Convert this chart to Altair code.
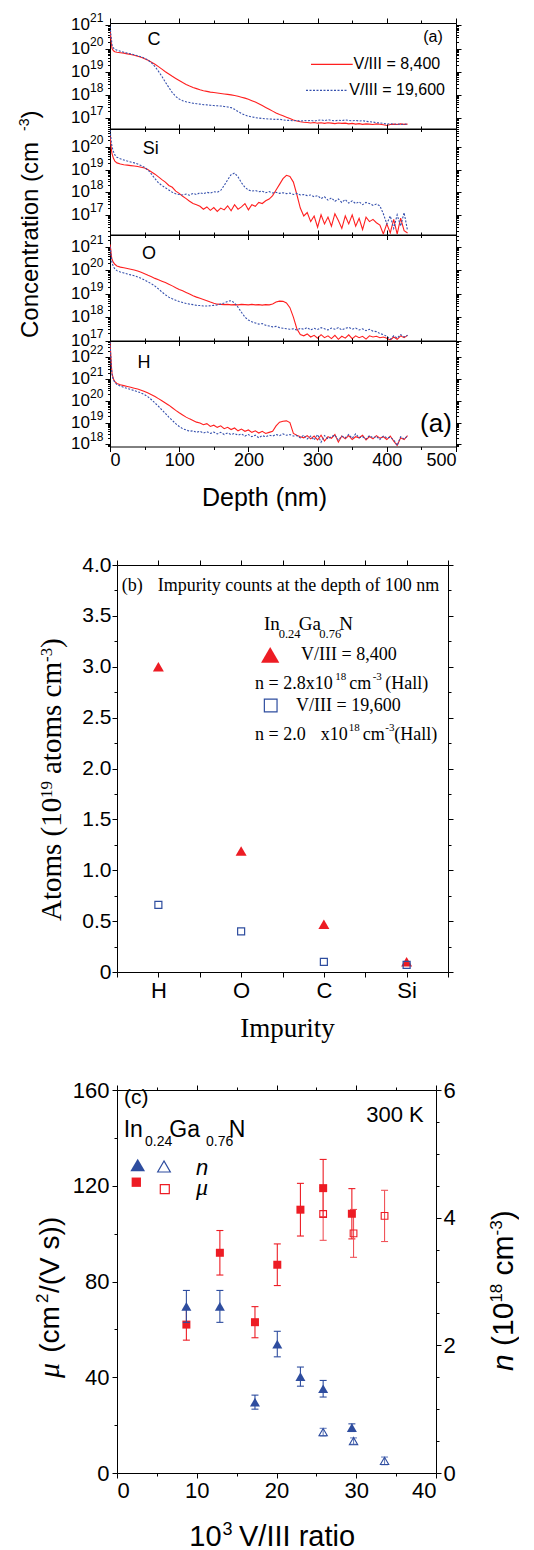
import json
import math
import altair as alt
import pandas as pd

SANS = "Liberation Sans"
SERIF = "Liberation Serif"
RED = "#ed1c24"
BLUE = "#2e4d9f"
LINE_RED = "#ff1f1f"
LINE_BLUE = "#3651ad"

# ---------------- panel (a): SIMS depth profiles (log10 of concentration) -------------
DEPTH = [0, 1, 2, 3, 5, 7,
         10, 15, 20, 25, 30, 35, 40, 45, 50, 55,
         60, 65, 70, 75, 80, 85, 90, 95, 100, 105,
         110, 115, 120, 125, 130, 135, 140, 145, 150, 155,
         160, 165, 170, 175, 180, 185, 190, 195, 200, 205,
         210, 215, 220, 225, 230, 235, 240, 245, 250, 255,
         260, 265, 270, 275, 280, 285, 290, 295, 300, 305,
         310, 315, 320, 325, 330, 335, 340, 345, 350, 355,
         360, 365, 370, 375, 380, 385, 390, 395, 400, 405,
         410, 415, 420, 425, 430]

C_8400 = [20.8, 20.5, 20.2, 20.0, 19.9, 19.86,
          19.84, 19.82, 19.8, 19.77, 19.74, 19.71, 19.67, 19.62, 19.56, 19.49,
          19.41, 19.32, 19.22, 19.11, 19.0, 18.9, 18.8, 18.71, 18.62, 18.53,
          18.45, 18.38, 18.32, 18.27, 18.22, 18.18, 18.15, 18.12, 18.1, 18.08,
          18.06, 18.04, 18.02, 18.0, 17.97, 17.94, 17.9, 17.86, 17.81, 17.75,
          17.69, 17.62, 17.54, 17.46, 17.38, 17.3, 17.22, 17.15, 17.1, 17.04,
          16.98, 16.92, 16.87, 16.84, 16.82, 16.81, 16.79, 16.81, 16.78, 16.8,
          16.77, 16.8, 16.78, 16.76, 16.79, 16.77, 16.78, 16.75, 16.77, 16.74,
          16.76, 16.73, 16.75, 16.74, 16.72, 16.75, 16.73, 16.71, 16.68, 16.72,
          16.74, 16.72, 16.75, 16.73, 16.74]
C_19600 = [20.95, 20.7, 20.4, 20.15, 20.02, 19.97,
           19.93, 19.88, 19.84, 19.8, 19.77, 19.73, 19.69, 19.64, 19.58, 19.5,
           19.38, 19.22, 19.02, 18.8, 18.55, 18.32, 18.1, 17.93, 17.82, 17.75,
           17.7, 17.67, 17.64, 17.62, 17.6, 17.58, 17.57, 17.55, 17.54, 17.53,
           17.52, 17.5, 17.48, 17.45, 17.38, 17.28, 17.2, 17.13, 17.08, 17.05,
           17.02, 17.0, 16.98, 16.97, 16.96, 16.95, 16.94, 16.95, 16.92, 16.9,
           16.9, 16.88, 16.9, 16.87, 16.89, 16.88, 16.9, 16.87, 16.9, 16.92,
           16.89, 16.93, 16.9, 16.88, 16.91, 16.89, 16.92, 16.9, 16.88, 16.9,
           16.87, 16.89, 16.86, 16.84, 16.83, 16.8, 16.79, 16.77, 16.74, 16.76,
           16.73, 16.75, 16.72, 16.74, 16.73]
SI_8400 = [20.5, 20.2, 19.9, 19.7, 19.5, 19.38,
           19.3, 19.25, 19.22, 19.2, 19.18, 19.16, 19.14, 19.11, 19.07, 19.0,
           18.9, 18.8, 18.68, 18.56, 18.45, 18.3, 18.22, 18.05, 17.95, 17.82,
           17.72, 17.6, 17.5, 17.45, 17.38, 17.25, 17.35, 17.2, 17.32, 17.15,
           17.3, 17.22, 17.4, 17.18, 17.45, 17.25, 17.35, 17.5, 17.22, 17.45,
           17.38, 17.55, 17.5, 17.62, 17.7, 17.85, 18.1, 18.35, 18.6, 18.75,
           18.7, 18.45, 17.9, 17.3, 16.95, 17.1, 16.7, 16.95, 16.45, 17.0,
           16.6, 16.9, 16.5, 17.05, 16.75, 16.4, 16.95, 16.6, 17.0, 16.5,
           16.85, 16.35, 16.9, 16.7, 16.8, 16.65, 16.55, 16.15, 16.6, 16.2,
           16.8, 16.15, 16.85, 16.3, 16.2]
SI_19600 = [20.75, 20.5, 20.2, 20.0, 19.8, 19.65,
            19.55, 19.48, 19.43, 19.38, 19.34, 19.3, 19.25, 19.18, 19.1, 18.98,
            18.8, 18.6, 18.42, 18.3, 18.2, 18.1, 18.0, 17.93, 17.9, 17.88,
            17.92, 17.87, 17.95, 17.9, 17.98, 17.93, 18.0, 17.96, 18.02, 18.0,
            18.08, 18.3, 18.55, 18.78, 18.85, 18.68, 18.42, 18.22, 18.1, 18.05,
            18.08, 18.02, 18.05, 17.98, 18.03, 17.97, 18.0, 17.95, 17.98, 17.94,
            17.96, 17.9, 17.95, 17.88, 17.9, 17.85, 17.88, 17.8, 17.85, 17.72,
            17.8, 17.65, 17.75, 17.6, 17.7, 17.55, 17.68, 17.52, 17.62, 17.5,
            17.58, 17.45, 17.55, 17.5, 17.42, 17.48, 17.4, 17.05, 16.6, 16.95,
            16.4, 17.0, 16.5, 17.1, 16.3]
O_8400 = [21.1, 20.9, 20.6, 20.45, 20.33, 20.25,
          20.18, 20.13, 20.1, 20.07, 20.04, 20.01, 19.96, 19.91, 19.85, 19.78,
          19.72, 19.65, 19.59, 19.53, 19.47, 19.4, 19.33, 19.25, 19.18, 19.12,
          19.05, 18.98, 18.91, 18.85, 18.8, 18.75, 18.7, 18.64, 18.59, 18.55,
          18.54, 18.53, 18.54, 18.52, 18.53, 18.52, 18.54, 18.53, 18.52, 18.54,
          18.52, 18.53, 18.51, 18.53, 18.52, 18.56, 18.64, 18.68, 18.67, 18.6,
          18.4, 18.0, 17.5, 17.25, 17.2, 17.28, 17.15, 17.22, 17.1, 17.25,
          17.12, 17.2, 17.08, 17.22, 17.05, 17.18, 17.1, 17.24, 17.08, 17.2,
          17.12, 17.18, 17.06, 17.2, 17.15, 17.18, 17.12, 17.15, 17.1, 17.02,
          17.15, 17.05, 17.2, 17.12, 17.22]
O_19600 = [21.0, 20.8, 20.5, 20.3, 20.15, 20.05,
           19.98, 19.92, 19.88, 19.84, 19.8, 19.76, 19.71, 19.65, 19.58, 19.5,
           19.42, 19.32, 19.2, 19.07, 18.95, 18.85, 18.78, 18.72, 18.66, 18.62,
           18.58, 18.55, 18.53, 18.5, 18.49, 18.47, 18.47, 18.48, 18.5, 18.52,
           18.55, 18.6, 18.67, 18.7, 18.6, 18.42, 18.2, 18.0, 17.87, 17.8,
           17.75, 17.7, 17.72, 17.65, 17.62, 17.58, 17.6, 17.55, 17.52, 17.5,
           17.48, 17.5, 17.45, 17.52, 17.48, 17.55, 17.45, 17.52, 17.47, 17.55,
           17.5, 17.45, 17.53, 17.48, 17.55, 17.45, 17.52, 17.56, 17.48, 17.53,
           17.45, 17.5, 17.42, 17.48, 17.4, 17.38, 17.3, 17.25, 17.18, 17.05,
           17.2, 17.1, 17.25, 17.15, 17.22]
H_8400 = [22.7, 22.2, 21.6, 21.25, 21.0, 20.88,
          20.8, 20.74, 20.7, 20.66, 20.62, 20.58, 20.54, 20.49, 20.43, 20.36,
          20.28, 20.2, 20.1, 20.0, 19.9, 19.8, 19.68, 19.56, 19.45, 19.35,
          19.25, 19.17, 19.1, 19.02, 18.98, 18.9, 18.95, 18.82, 18.88, 18.78,
          18.85, 18.72, 18.78, 18.68, 18.75, 18.62, 18.7, 18.6, 18.66, 18.55,
          18.62, 18.52, 18.6, 18.5, 18.55, 18.6, 18.85, 19.02, 19.06, 19.08,
          19.0, 18.5, 18.42, 18.35, 18.3, 18.4, 18.25, 18.38, 18.2, 18.42,
          18.15, 18.35, 18.28, 18.45, 18.1, 18.38, 18.25, 18.4, 18.22, 18.35,
          18.3, 18.42, 18.2, 18.36, 18.25, 18.4, 18.28, 18.35, 18.22, 18.38,
          18.15, 17.95, 18.3, 18.22, 18.4]
H_19600 = [22.7, 22.1, 21.5, 21.2, 20.95, 20.85,
           20.75, 20.68, 20.62, 20.57, 20.52, 20.47, 20.42, 20.36, 20.28, 20.18,
           20.05, 19.9, 19.75, 19.58, 19.42, 19.25, 19.1, 18.95, 18.82, 18.72,
           18.66, 18.6, 18.62, 18.55, 18.6, 18.52, 18.58, 18.5, 18.56, 18.48,
           18.55, 18.45, 18.52, 18.45, 18.5, 18.42, 18.48, 18.38, 18.45, 18.35,
           18.42, 18.3, 18.4, 18.35, 18.42, 18.38, 18.45, 18.4, 18.48, 18.42,
           18.45, 18.38, 18.4, 18.3, 18.42, 18.25, 18.38, 18.2, 18.45, 18.1,
           18.4, 18.25, 18.35, 18.42, 18.2, 18.38, 18.3, 18.45, 18.28, 18.48,
           18.3, 18.35, 18.25, 18.4, 18.3, 18.36, 18.22, 18.38, 18.3, 18.32,
           18.2, 17.95, 18.35, 18.25, 18.38]

A_XTICKS = [0, 50, 100, 150, 200, 250, 300, 350, 400, 450, 500]
SERIES = ["V/III = 8,400", "V/III = 19,600"]

# ---------------- panel (b) ----------------
B_CATS = ["H", "O", "C", "Si"]
B_8400 = [3.0, 1.19, 0.47, 0.10]
B_19600 = [0.66, 0.40, 0.10, 0.07]
B_YTICKS = [0, 0.25, 0.5, 0.75, 1.0, 1.25, 1.5, 1.75, 2.0, 2.25, 2.5, 2.75,
            3.0, 3.25, 3.5, 3.75, 4.0]
B_XTICKS = [0.5, 1, 1.5, 2, 2.5, 3, 3.5, 4, 4.5]

# ---------------- panel (c) ----------------
C_X = [8.7, 12.9, 17.3, 20.1, 23.0, 25.85, 29.45]
C_MU = [62.0, 92.0, 63.0, 87.0, 110.0, 119.0, 108.3]
C_MU_ERR = [6.5, 9.3, 6.5, 8.7, 11.0, 12.0, 10.5]
C_N = [2.61, 2.61, 1.11, 2.02, 1.51, 1.32, 0.71]
C_N_ERR = [0.25, 0.25, 0.11, 0.2, 0.15, 0.13, 0.06]
C_X_OPEN = [25.85, 29.66, 33.55]
C_MU_OPEN = [108.2, 100.1, 107.4]
C_MU_OPEN_ERR = [11.0, 10.0, 10.7]
C_N_OPEN = [0.64, 0.50, 0.19]
C_N_OPEN_ERR = [0.06, 0.05, 0.06]
C_XTICKS = [0, 5, 10, 15, 20, 25, 30, 35, 40]
C_MUTICKS = [0, 20, 40, 60, 80, 100, 120, 140, 160]
C_NTICKS = [0, 0.5, 1, 1.5, 2, 2.5, 3, 3.5, 4, 4.5, 5, 5.5, 6]

ONE = pd.DataFrame({"k": [0]})


def txt(s, x, y, size, font=SANS, style="normal", align="left",
        baseline="middle", angle=0, color="black"):
    return alt.Chart(ONE).mark_text(
        text=s, font=font, fontSize=size, fontStyle=style, align=align,
        baseline=baseline, angle=angle, color=color
    ).encode(x=alt.value(x), y=alt.value(y))


def seg(x1, x2, y, color, dash=None):
    kw = {"strokeDash": dash} if dash else {}
    return alt.Chart(ONE).mark_rule(color=color, strokeWidth=1.2, **kw).encode(
        x=alt.value(x1), x2=alt.value(x2), y=alt.value(y))


def sym(x, y, shape, size, color, filled):
    return alt.Chart(ONE).mark_point(
        shape=shape, size=size, filled=filled, color=color, opacity=1,
        strokeWidth=1.2).encode(x=alt.value(x), y=alt.value(y))


def cond_size(test, big, small):
    return {"condition": {"test": test, "value": big}, "value": small}


def spacer(h):
    return alt.Chart(ONE).mark_point(opacity=0).encode(
        x=alt.value(0), y=alt.value(0)).properties(width=10, height=h)


MAJ_LOG = "abs(log(datum.value)/LN10 - round(log(datum.value)/LN10)) < 0.001"
A_W, A_H = 346, 105.5


def sims_panel(elem, red, blue, lo, hi, lab_xy, last=False, extras=()):
    ysc = alt.Scale(type="log", domain=[10 ** lo, 10 ** hi])
    xsc = alt.Scale(domain=[0, 500])
    dfr = pd.DataFrame({"depth": DEPTH, "conc": [10 ** v for v in red]})
    dfb = pd.DataFrame({"depth": DEPTH, "conc": [10 ** v for v in blue]})
    k0, k1 = math.ceil(lo - 1e-9), math.floor(hi + 1e-9)
    majors = [10.0 ** k for k in range(k0, k1 + 1)]
    minors = [m * 10.0 ** k for k in range(math.floor(lo), math.ceil(hi))
              for m in range(2, 10) if 10 ** lo <= m * 10.0 ** k <= 10 ** hi]
    yvals = sorted(majors + minors)
    xsize = cond_size("datum.value % 100 == 0", 5, 3)
    ysize = cond_size(MAJ_LOG, 5, 2.5)
    xaxis = alt.Axis(values=A_XTICKS, tickSize=xsize, labels=last,
                     labelExpr="datum.value % 100 == 0 ? format(datum.value, 'd') : ''",
                     labelFontSize=18, labelPadding=0, domain=False, grid=False, title=None)
    yaxis = alt.Axis(values=yvals, tickSize=ysize, labels=False, domain=False,
                     grid=False, title=None)
    red_line = alt.Chart(dfr).mark_line(color=LINE_RED, strokeWidth=1.1, clip=True).encode(
        x=alt.X("depth:Q", scale=xsc, axis=xaxis),
        y=alt.Y("conc:Q", scale=ysc, axis=yaxis))
    blue_line = alt.Chart(dfb).mark_line(color=LINE_BLUE, strokeWidth=1.1,
                                         strokeDash=[2, 1.5], clip=True).encode(
        x=alt.X("depth:Q", scale=xsc, axis=None),
        y=alt.Y("conc:Q", scale=ysc, axis=None))
    mirror = alt.Chart(pd.DataFrame({"depth": [0.0], "conc": [10 ** lo]})).mark_point(
        opacity=0).encode(
        x=alt.X("depth:Q", scale=xsc, axis=alt.Axis(orient="top", values=A_XTICKS,
                tickSize=xsize, labels=False, domain=False, grid=False, title=None)),
        y=alt.Y("conc:Q", scale=ysc, axis=alt.Axis(orient="right", values=yvals,
                tickSize=ysize, labels=False, domain=False, grid=False, title=None)))
    dfl = pd.DataFrame({"conc": majors, "e": [str(k) for k in range(k0, k1 + 1)]})
    base10 = alt.Chart(dfl).mark_text(text="10", align="right", baseline="middle",
                                      font=SANS, fontSize=17).encode(
        x=alt.value(-20), y=alt.Y("conc:Q", scale=ysc, axis=None))
    expo = alt.Chart(dfl).mark_text(align="left", baseline="middle", font=SANS,
                                    fontSize=12, dy=-7).encode(
        x=alt.value(-20), y=alt.Y("conc:Q", scale=ysc, axis=None), text="e:N")
    label = txt(elem, lab_xy[0], lab_xy[1], 18, align="center")
    return alt.layer(red_line, blue_line, mirror, base10, expo, label, *extras).resolve_axis(
        x="independent", y="independent").properties(
        width=A_W, height=A_H, view=alt.ViewBackground(stroke="black", strokeWidth=1))


c_extras = [
    seg(201, 242.7, 41.3, LINE_RED),
    txt(SERIES[0], 243.5, 41.3, 16),
    seg(196, 237.7, 67.3, LINE_BLUE, [2, 1.5]),
    txt(SERIES[1], 239.3, 67.3, 16),
    txt("(a)", 323, 14.3, 16, align="center"),
    txt("Concentration (cm", -72, 315, 24, angle=270, baseline="alphabetic"),
    txt("-3", -81, 108, 14, angle=270, baseline="alphabetic"),
    txt(")", -72, 95.5, 24, angle=270, baseline="alphabetic"),
    alt.Chart(ONE).mark_rule(opacity=0).encode(x=alt.value(-101), x2=alt.value(-100),
                                               y=alt.value(-14)),
]
h_extras = [
    txt("(a)", 326, 83.2, 26, align="center"),
    txt("Depth (nm)", 154.5, 164.8, 25, align="center", baseline="alphabetic"),
]

p_c = sims_panel("C", C_8400, C_19600, 16.55, 21.1, (44, 17), extras=c_extras)
p_si = sims_panel("Si", SI_8400, SI_19600, 16.13, 20.8, (40.7, 19.5))
p_o = sims_panel("O", O_8400, O_19600, 17.0, 21.5, (39, 18.7))
p_h = sims_panel("H", H_8400, H_19600, 17.9, 22.75, (34, 21.5), last=True, extras=h_extras)

# ---------------- panel (b) chart ----------------
xs_b = alt.Scale(domain=[0.5, 4.5], range=[7, 338])
ys_b = alt.Scale(domain=[0, 4])
cat_expr = "datum.value % 1 == 0 ? " + json.dumps([""] + B_CATS) + "[datum.value] : ''"
b_ylab = ("datum.value == 0 ? '0' : ((datum.value * 2) % 1 == 0 ? "
          "format(datum.value, '.1f') : '')")
b_ysize = cond_size("(datum.value * 2) % 1 == 0", 5, 3)
dfb1 = pd.DataFrame({"pos": [1, 2, 3, 4], "val": B_8400})
dfb2 = pd.DataFrame({"pos": [1, 2, 3, 4], "val": B_19600})
red_b = alt.Chart(dfb1).mark_point(shape="triangle-up", filled=True, size=121,
                                    color=RED, opacity=1).encode(
    x=alt.X("pos:Q", scale=xs_b, axis=alt.Axis(values=B_XTICKS, labelExpr=cat_expr,
            tickSize=5, labelFontSize=22, labelPadding=3, grid=False, title=None)),
    y=alt.Y("val:Q", scale=ys_b, axis=alt.Axis(values=B_YTICKS, labelExpr=b_ylab,
            tickSize=b_ysize, labelFontSize=21, labelPadding=1, offset=-7,
            grid=False, title=None)))
blue_b = alt.Chart(dfb2).mark_point(shape="square", filled=False, size=49, color=BLUE,
                                     opacity=1, strokeWidth=1.2).encode(
    x=alt.X("pos:Q", scale=xs_b, axis=None),
    y=alt.Y("val:Q", scale=ys_b, axis=None))
mirror_b = alt.Chart(pd.DataFrame({"pos": [1], "val": [0]})).mark_point(opacity=0).encode(
    x=alt.X("pos:Q", scale=xs_b, axis=alt.Axis(orient="top", values=B_XTICKS, labels=False,
            tickSize=5, grid=False, title=None)),
    y=alt.Y("val:Q", scale=ys_b, axis=alt.Axis(orient="right", values=B_YTICKS,
            labels=False, tickSize=b_ysize, grid=False, title=None)))
b_texts = [
    txt("(b)", 11.7, 21, 18, font=SERIF),
    txt("Impurity counts at the depth of 100 nm", 47.7, 21, 18, font=SERIF),
    txt("In", 154, 65.3, 19, font=SERIF, baseline="alphabetic"),
    txt("0.24", 168.7, 73, 12.5, font=SERIF, baseline="alphabetic"),
    txt("Ga", 188.7, 65.3, 19, font=SERIF, baseline="alphabetic"),
    txt("0.76", 209.3, 73, 12.5, font=SERIF, baseline="alphabetic"),
    txt("N", 229.3, 65.3, 19, font=SERIF, baseline="alphabetic"),
    sym(160.2, 89.9, "triangle-up", 335, RED, True),
    txt(SERIES[0], 191, 95.3, 18, font=SERIF, baseline="alphabetic"),
    txt("n = 2.8x10", 145, 124, 18, font=SERIF, baseline="alphabetic"),
    txt("18", 225.3, 114.7, 11, font=SERIF, baseline="alphabetic"),
    txt("cm", 239.3, 124, 18, font=SERIF, baseline="alphabetic"),
    txt("-3", 262.7, 114.7, 11, font=SERIF, baseline="alphabetic"),
    txt("(Hall)", 275.3, 124, 18, font=SERIF, baseline="alphabetic"),
    sym(160.7, 140.5, "square", 161, BLUE, False),
    txt(SERIES[1], 186, 146.3, 18, font=SERIF, baseline="alphabetic"),
    txt("n = 2.0", 145, 174.7, 18, font=SERIF, baseline="alphabetic"),
    txt("x10", 237.7, 174.7, 18, font=SERIF, baseline="alphabetic", align="right"),
    txt("18", 238.7, 166.3, 11, font=SERIF, baseline="alphabetic"),
    txt("cm", 252.7, 174.7, 18, font=SERIF, baseline="alphabetic"),
    txt("-3", 275.3, 166.3, 11, font=SERIF, baseline="alphabetic"),
    txt("(Hall)", 284.3, 174.7, 18, font=SERIF, baseline="alphabetic"),
    # axis titles
    txt("Impurity", 130.3, 472.3, 27, font=SERIF, baseline="alphabetic"),
    txt("Atoms (10", -49, 356, 29, font=SERIF, angle=270, baseline="alphabetic"),
    txt("19", -58, 233, 17, font=SERIF, angle=270, baseline="alphabetic"),
    txt("atoms cm", -49, 209, 29, font=SERIF, angle=270, baseline="alphabetic"),
    txt("-3", -58, 97, 17, font=SERIF, angle=270, baseline="alphabetic"),
    txt(")", -49, 83, 29, font=SERIF, angle=270, baseline="alphabetic"),
]
panel_b = alt.layer(red_b, blue_b, mirror_b, *b_texts).resolve_axis(
    x="independent", y="independent").properties(width=338, height=407)

# ---------------- panel (c) chart ----------------
xs_c = alt.Scale(domain=[0, 40], range=[7, 326])
ys_mu = alt.Scale(domain=[0, 160])
ys_n = alt.Scale(domain=[0, 6])


def err_df(xs, vals, errs):
    return pd.DataFrame({"x": xs, "v": vals,
                         "lo": [v - e for v, e in zip(vals, errs)],
                         "hi": [v + e for v, e in zip(vals, errs)]})


mu_f = err_df(C_X, C_MU, C_MU_ERR)
mu_o = err_df(C_X_OPEN, C_MU_OPEN, C_MU_OPEN_ERR)
n_f = err_df(C_X, C_N, C_N_ERR)
n_o = err_df(C_X_OPEN, C_N_OPEN, C_N_OPEN_ERR)


def err_layers(df, ysc, color):
    rule = alt.Chart(df).mark_rule(color=color, strokeWidth=1.1).encode(
        x=alt.X("x:Q", scale=xs_c, axis=None),
        y=alt.Y("lo:Q", scale=ysc, axis=None), y2="hi:Q")
    lo = alt.Chart(df).mark_tick(orient="horizontal", size=7, thickness=1.1,
                                 color=color, opacity=1).encode(
        x=alt.X("x:Q", scale=xs_c, axis=None), y=alt.Y("lo:Q", scale=ysc, axis=None))
    hi = alt.Chart(df).mark_tick(orient="horizontal", size=7, thickness=1.1,
                                 color=color, opacity=1).encode(
        x=alt.X("x:Q", scale=xs_c, axis=None), y=alt.Y("hi:Q", scale=ysc, axis=None))
    return [rule, lo, hi]


mu_axis_layer = alt.Chart(mu_f).mark_point(shape="square", filled=True, size=64,
                                           color=RED, opacity=1).encode(
    x=alt.X("x:Q", scale=xs_c, axis=alt.Axis(values=C_XTICKS,
            labelExpr="datum.value % 10 == 0 ? format(datum.value, 'd') : ''",
            tickSize=cond_size("datum.value % 10 == 0", 5, 3), labelFontSize=22,
            labelPadding=2, grid=False, title=None)),
    y=alt.Y("v:Q", scale=ys_mu, axis=alt.Axis(values=C_MUTICKS,
            labelExpr="datum.value % 40 == 0 ? format(datum.value, 'd') : ''",
            tickSize=cond_size("datum.value % 40 == 0", 5, 3), labelFontSize=22,
            labelPadding=3, offset=-7, grid=False, title=None)))
mu_open_pts = alt.Chart(mu_o).mark_point(shape="square", filled=False, size=45,
                                         color=RED, opacity=1, strokeWidth=1.1).encode(
    x=alt.X("x:Q", scale=xs_c, axis=None), y=alt.Y("v:Q", scale=ys_mu, axis=None))

n_axis_layer = alt.Chart(n_f).mark_point(shape="triangle-up", filled=True, size=100,
                                         color=BLUE, opacity=1).encode(
    x=alt.X("x:Q", scale=xs_c, axis=None),
    y=alt.Y("v:Q", scale=ys_n, axis=alt.Axis(orient="right", values=C_NTICKS,
            labelExpr="datum.value % 2 == 0 ? format(datum.value, 'd') : ''",
            tickSize=cond_size("datum.value % 2 == 0", 5, 3), labelFontSize=22,
            labelPadding=2, grid=False, title=None)))
n_open_pts = alt.Chart(n_o).mark_point(shape="triangle-up", filled=False, size=70,
                                       color=BLUE, opacity=1, strokeWidth=1.1).encode(
    x=alt.X("x:Q", scale=xs_c, axis=None), y=alt.Y("v:Q", scale=ys_n, axis=None))

mirror_c = alt.Chart(pd.DataFrame({"x": [0]})).mark_point(opacity=0).encode(
    x=alt.X("x:Q", scale=xs_c, axis=alt.Axis(orient="top", values=C_XTICKS, labels=False,
            tickSize=cond_size("datum.value % 10 == 0", 5, 3), grid=False, title=None)))

c_texts = [
    txt("(c)", 14, 8, 21),
    txt("300 K", 313.7, 24.7, 22, align="right"),
    txt("In", 13.7, 47.3, 23, baseline="alphabetic"),
    txt("0.24", 35, 55.7, 14, baseline="alphabetic"),
    txt("Ga", 59.3, 47.3, 23, baseline="alphabetic"),
    txt("0.76", 96, 55.7, 14, baseline="alphabetic"),
    txt("N", 118.7, 47.3, 23, baseline="alphabetic"),
    sym(27.7, 75, "triangle-up", 216, BLUE, True),
    sym(54, 76.5, "triangle-up", 160, BLUE, False),
    txt("n", 86, 84.7, 22, style="italic", baseline="alphabetic"),
    sym(26.3, 92.2, "square", 87, RED, True),
    sym(54.8, 99.2, "square", 81, RED, False),
    txt("μ", 86, 105, 24, font=SERIF, style="italic", baseline="alphabetic"),
    # x title
    txt("10", 79.3, 456, 29, baseline="alphabetic"),
    txt("3", 112.5, 445, 18, baseline="alphabetic"),
    txt("V/III ratio", 129, 456, 29, baseline="alphabetic"),
    # left title
    txt("μ", -51, 288, 30, font=SERIF, style="italic", angle=270, baseline="alphabetic"),
    txt("(cm", -51, 262.7, 28, angle=270, baseline="alphabetic"),
    txt("2", -62, 213, 17, angle=270, baseline="alphabetic"),
    txt("/(V s))", -51, 203, 28, angle=270, baseline="alphabetic"),
    # right title
    txt("n", 403, 281, 30, style="italic", angle=270, baseline="alphabetic"),
    txt("(10", 403, 256, 30, angle=270, baseline="alphabetic"),
    txt("18", 392, 212.6, 17, angle=270, baseline="alphabetic"),
    txt("cm", 403, 185.4, 30, angle=270, baseline="alphabetic"),
    txt("-3", 392, 145.4, 17, angle=270, baseline="alphabetic"),
    txt(")", 403, 130.3, 30, angle=270, baseline="alphabetic"),
]
c_layers = (err_layers(mu_f, ys_mu, RED) + err_layers(mu_o, ys_mu, "#f0545a")
            + [mu_axis_layer, mu_open_pts]
            + err_layers(n_f, ys_n, BLUE) + err_layers(n_o, ys_n, "#6a80c0")
            + [n_axis_layer, n_open_pts, mirror_c] + c_texts)
panel_c = alt.layer(*c_layers).resolve_scale(y="independent").resolve_axis(
    x="independent", y="independent").properties(width=326, height=383)

chart = alt.vconcat(p_c, p_si, p_o, p_h, spacer(118), panel_b, spacer(118), panel_c,
                    spacing=0, bounds="flush").properties(
    padding=0, background="white"
).configure_view(strokeWidth=0).configure_axis(
    domainColor="black", tickColor="black", labelColor="black", labelFont=SANS,
    tickWidth=1, domainWidth=1, grid=False)

chart.save("out.html", embed_options={"renderer": "svg", "actions": False})
